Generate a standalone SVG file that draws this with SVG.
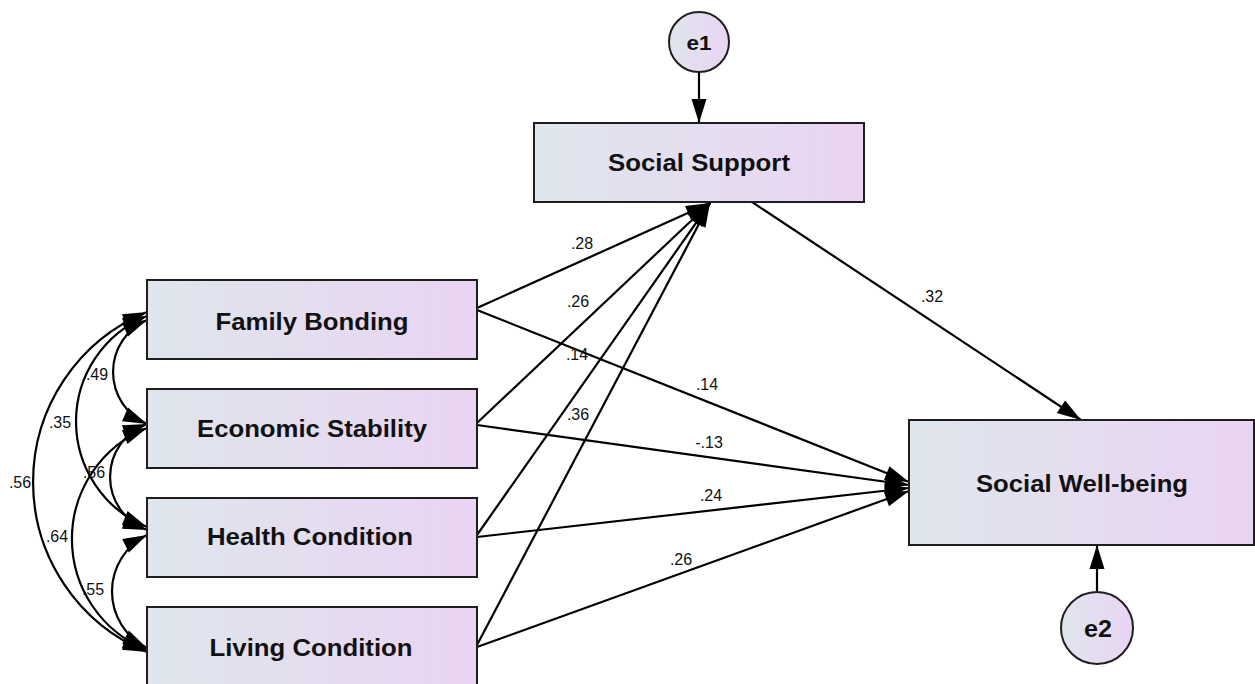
<svg xmlns="http://www.w3.org/2000/svg" width="1255" height="684" viewBox="0 0 1255 684">
<defs>
<linearGradient id="fill" x1="0" y1="0" x2="1" y2="0">
<stop offset="0" stop-color="#dfe6ec"/>
<stop offset="1" stop-color="#ead4f3"/>
</linearGradient>
<marker id="ah" markerUnits="userSpaceOnUse" markerWidth="26" markerHeight="16" viewBox="0 0 26 16" refX="24" refY="7.5" orient="auto-start-reverse" overflow="visible">
<path d="M0,0 L24,7.5 L0,15 z" fill="#000"/>
</marker>
</defs>
<style>
.box{fill:url(#fill);stroke:#1e1e1e;stroke-width:2}
.lbl{font-family:"Liberation Sans",Arial,sans-serif;font-weight:bold;font-size:23px;fill:#111;text-anchor:middle}
.num{font-family:"Liberation Sans",Arial,sans-serif;font-size:16px;fill:#111;text-anchor:middle}
.con path,.con line{fill:none;stroke:#000;stroke-width:2.2}
.one{marker-end:url(#ah)}
.two{marker-start:url(#ah);marker-end:url(#ah)}
</style>
<rect width="1255" height="684" fill="#fff"/>

<g class="con" id="connectors">
<path class="two" d="M147,320 A56.8,56.8 0 0 0 147,424"/>
<path class="two" d="M147,316 A113.9,113.9 0 0 0 147,527"/>
<path class="two" d="M147,312 A183.8,183.8 0 0 0 147,652"/>
<path class="two" d="M147,424 A56.5,56.5 0 0 0 147,530"/>
<path class="two" d="M147,428 A119.6,119.6 0 0 0 147,650"/>
<path class="two" d="M147,535 A63.1,63.1 0 0 0 147,648"/>
<line class="one" x1="477" y1="308" x2="710" y2="203"/>
<line class="one" x1="477" y1="423" x2="710" y2="203"/>
<line class="one" x1="477" y1="535" x2="710" y2="203"/>
<line class="one" x1="477" y1="645" x2="710" y2="203"/>
<line class="one" x1="477" y1="310" x2="909" y2="482"/>
<line class="one" x1="477" y1="425" x2="909" y2="485"/>
<line class="one" x1="477" y1="537" x2="909" y2="488"/>
<line class="one" x1="477" y1="647" x2="909" y2="491"/>
<line class="one" x1="752" y1="202" x2="1081" y2="420"/>
<line class="one" x1="699" y1="72" x2="699" y2="123"/>
<line class="one" x1="1097" y1="592" x2="1097" y2="545"/>
</g>

<g id="labels">
<text class="num" x="97" y="380">.49</text>
<text class="num" x="60" y="428">.35</text>
<text class="num" x="20" y="488">.56</text>
<text class="num" x="94" y="478">.56</text>
<text class="num" x="57" y="542">.64</text>
<text class="num" x="93" y="595">.55</text>
<text class="num" x="582" y="249">.28</text>
<text class="num" x="578" y="307">.26</text>
<text class="num" x="577" y="360">.14</text>
<text class="num" x="578" y="420">.36</text>
<text class="num" x="707" y="390">.14</text>
<text class="num" x="709" y="448">-.13</text>
<text class="num" x="711" y="501">.24</text>
<text class="num" x="681" y="565">.26</text>
<text class="num" x="932" y="302">.32</text>
</g>

<g id="family-bonding">
<rect class="box" x="147" y="280" width="330" height="79"/>
<text class="lbl" x="312" y="330" textLength="193" lengthAdjust="spacingAndGlyphs">Family Bonding</text>
</g>
<g id="economic-stability">
<rect class="box" x="147" y="389" width="330" height="79"/>
<text class="lbl" x="312" y="437" textLength="230" lengthAdjust="spacingAndGlyphs">Economic Stability</text>
</g>
<g id="health-condition">
<rect class="box" x="147" y="498" width="330" height="79"/>
<text class="lbl" x="310" y="545" textLength="206" lengthAdjust="spacingAndGlyphs">Health Condition</text>
</g>
<g id="living-condition">
<rect class="box" x="147" y="607" width="330" height="79"/>
<text class="lbl" x="311" y="656" textLength="203" lengthAdjust="spacingAndGlyphs">Living Condition</text>
</g>
<g id="social-support">
<rect class="box" x="534" y="123" width="330" height="79"/>
<text class="lbl" x="699" y="171" textLength="182" lengthAdjust="spacingAndGlyphs">Social Support</text>
</g>
<g id="social-well-being">
<rect class="box" x="909" y="420" width="345" height="125"/>
<text class="lbl" x="1082" y="492" textLength="212" lengthAdjust="spacingAndGlyphs">Social Well-being</text>
</g>
<g id="e1">
<circle class="box" cx="699" cy="42" r="30"/>
<text class="lbl" x="699" y="50" style="font-size:21px" textLength="25" lengthAdjust="spacingAndGlyphs">e1</text>
</g>
<g id="e2">
<circle class="box" cx="1097" cy="628" r="36"/>
<text class="lbl" x="1098" y="637" textLength="28" lengthAdjust="spacingAndGlyphs">e2</text>
</g>
</svg>
